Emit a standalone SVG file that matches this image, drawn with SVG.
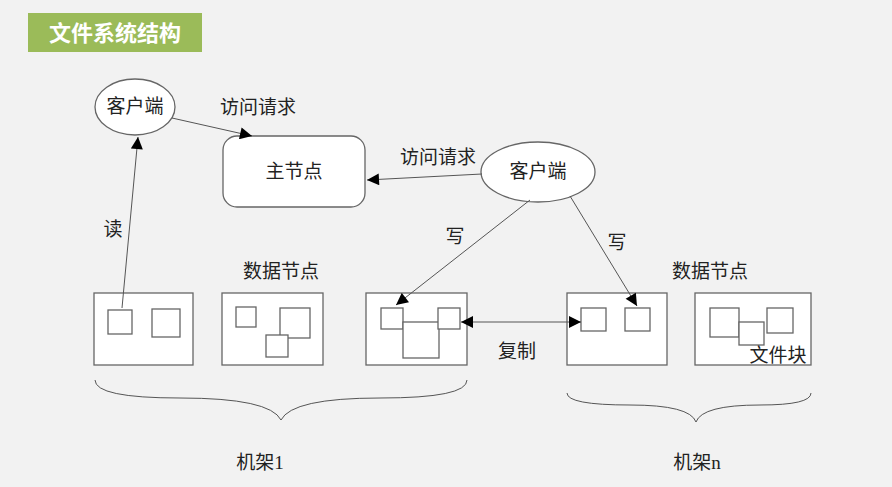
<svg xmlns="http://www.w3.org/2000/svg" width="892" height="487" viewBox="0 0 892 487">
<defs>
<style>
text{font-family:"Liberation Serif","Noto Sans CJK SC",serif;font-size:19px;fill:#222;text-anchor:middle}
.b{fill:#fff;stroke:#666;stroke-width:1.3}
.l{stroke:#555;stroke-width:1;fill:none}
</style>
<marker id="a" viewBox="0 0 10 10" refX="10" refY="5" markerWidth="13" markerHeight="12" markerUnits="userSpaceOnUse" orient="auto-start-reverse"><path d="M0,0L10,5L0,10z" fill="#000"/></marker>
</defs>
<rect width="892" height="487" fill="#f2f2f2"/>
<rect x="28" y="13" width="174" height="39" fill="#9bbb59"/>
<text x="115" y="41" style="font-family:'Noto Sans CJK SC',sans-serif;font-weight:bold;font-size:22px;fill:#fff">文件系统结构</text>
<g id="client1"><ellipse cx="135" cy="107" rx="40" ry="28" class="b"/><text x="135" y="113">客户端</text></g>
<g id="master"><rect x="223" y="136" width="142" height="71" rx="14" class="b"/><text x="294" y="178">主节点</text></g>
<g id="client2"><ellipse cx="538" cy="172" rx="57" ry="30" class="b"/><text x="538" y="178">客户端</text></g>
<g id="dn1"><rect x="94" y="293" width="99" height="72" class="b"/><rect x="108" y="310" width="24" height="24" class="b"/><rect x="152" y="309" width="28" height="28" class="b"/></g>
<g id="dn2"><rect x="222" y="293" width="101" height="72" class="b"/><rect x="236" y="307" width="20" height="20" class="b"/><rect x="280" y="308" width="30" height="30" class="b"/><rect x="266" y="335" width="22" height="22" class="b"/></g>
<g id="dn3"><rect x="366" y="293" width="101" height="72" class="b"/><rect x="381" y="308" width="22" height="21" class="b"/><rect x="403" y="322" width="36" height="36" class="b"/><rect x="438" y="308" width="22" height="21" class="b"/></g>
<g id="dn4"><rect x="567" y="293" width="100" height="72" class="b"/><rect x="581" y="308" width="25" height="23" class="b"/><rect x="625" y="308" width="25" height="23" class="b"/></g>
<g id="dn5"><rect x="695" y="293" width="116" height="72" class="b"/><rect x="710" y="308" width="29" height="29" class="b"/><rect x="739" y="322" width="25" height="23" class="b"/><rect x="767" y="308" width="26" height="25" class="b"/><text x="778" y="362">文件块</text></g>
<g id="connectors">
<line x1="172" y1="118" x2="252" y2="136" class="l" marker-end="url(#a)"/>
<line x1="482" y1="174" x2="367" y2="180" class="l" marker-end="url(#a)"/>
<line x1="122" y1="308" x2="138" y2="137" class="l" marker-end="url(#a)"/>
<line x1="530" y1="200" x2="396" y2="305" class="l" marker-end="url(#a)"/>
<line x1="570" y1="196" x2="637" y2="306" class="l" marker-end="url(#a)"/>
<line x1="461" y1="322" x2="581" y2="322" class="l" marker-start="url(#a)" marker-end="url(#a)"/>
</g>
<path d="M95,380 Q95,398 180,398 Q270,398 281,420 Q292,398 380,398 Q467,398 467,380" class="l"/>
<path d="M567,393 Q567,405 630,405 Q690,405 696,422 Q702,405 760,405 Q811,405 811,393" class="l"/>
<text x="258" y="114">访问请求</text>
<text x="438" y="164">访问请求</text>
<text x="113" y="236">读</text>
<text x="455" y="243">写</text>
<text x="617" y="249">写</text>
<text x="281" y="278">数据节点</text>
<text x="710" y="278">数据节点</text>
<text x="517" y="358">复制</text>
<text x="260" y="469">机架1</text>
<text x="697" y="469">机架n</text>
</svg>
